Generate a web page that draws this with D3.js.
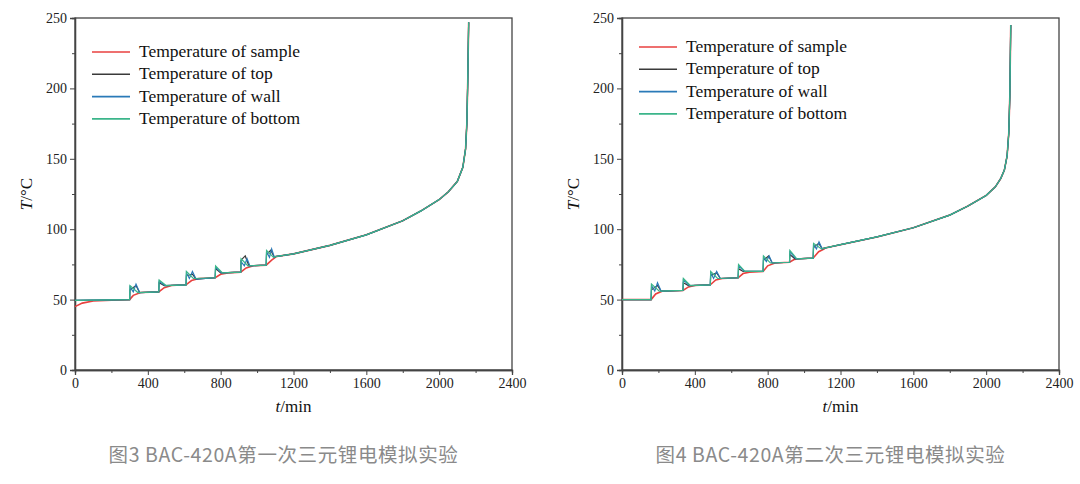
<!DOCTYPE html>
<html>
<head>
<meta charset="UTF-8">
<style>
  body { margin: 0; background: #fff; }
</style>
<script src="https://d3js.org/d3.v7.min.js"></script>
</head>
<body>
<svg id="chart" width="1080" height="484" style="font-family: 'Liberation Serif', serif"></svg>
<script>
// series names and colours
const seriesNames = ["Temperature of sample", "Temperature of top", "Temperature of wall", "Temperature of bottom"];
const seriesColors = ["#e8413f", "#3a3a3a", "#2a7ab8", "#3bb58a"];
const xTicks = [0, 400, 800, 1200, 1600, 2000, 2400];
const yTicks = [0, 50, 100, 150, 200, 250];

// figure 3, step section [t, T]
const f3Sample = [[0,45],[40,47.5],[100,49],[200,49.5],[300,50],[320,53],[360,55],[460,55.5],[490,58.5],[530,60],[610,60.5],[640,63.5],[680,65],[770,65.5],[800,68],[840,69],[910,69.5],[940,72.5],[980,74],[1050,74.5],[1080,78],[1100,80]];
const f3Top = [[0,49.5],[300,50],[302,57],[335,60],[355,55],[460,55.5],[462,62],[490,60],[610,60.5],[612,67],[645,68],[665,64.5],[770,65.5],[772,72],[800,69],[910,69.5],[912,78],[935,81],[955,74],[1050,74.5],[1052,82],[1075,85],[1095,80]];
const f3Wall = [[0,49.5],[300,50],[302,59],[320,55.5],[335,61],[355,55],[460,55.5],[462,63],[495,60],[610,60.5],[612,69],[628,65],[645,70],[665,64.5],[770,65.5],[772,73],[805,69],[910,69.5],[912,77],[930,74],[945,79],[960,74],[1050,74.5],[1052,84],[1068,80],[1080,86],[1095,80]];
const f3Bottom = [[0,49.5],[300,50],[302,60],[345,55],[460,55.5],[462,64],[500,60],[610,60.5],[612,70],[650,65],[770,65.5],[772,74],[810,69],[910,69.5],[912,79],[950,74],[1050,74.5],[1052,85],[1090,80]];
const f3Tail = [[1100,80.5],[1200,82.5],[1400,88.5],[1600,96],[1800,106],[1900,113],[2000,121],[2050,126.5],[2100,134],[2130,144],[2145,157],[2152,175],[2157,205],[2162,247]];

// figure 4, step section [t, T]
const f4Sample = [[0,50],[160,50],[185,54],[220,56],[335,56.5],[365,59],[400,60],[485,60.5],[515,64],[550,65],[638,65.5],[665,68.5],[700,69.5],[775,70],[800,74],[840,76],[920,76.5],[945,78.5],[980,79],[1050,79.5],[1080,84],[1110,86]];
const f4Top = [[0,50],[160,50],[162,57],[195,60],[215,56],[335,56.5],[337,62],[365,60],[485,60.5],[487,67],[520,69],[540,65],[638,65.5],[640,72],[665,70],[775,70],[777,78],[805,81],[825,76],[920,76.5],[922,82],[950,79],[1050,79.5],[1052,87],[1080,90],[1100,86]];
const f4Wall = [[0,50],[160,50],[162,60],[180,56],[195,62],[215,56],[335,56.5],[337,64],[370,60],[485,60.5],[487,69],[503,65],[520,70],[540,65],[638,65.5],[640,74],[672,70],[775,70],[777,80],[793,77],[808,81],[825,76],[920,76.5],[922,84],[955,79],[1050,79.5],[1052,89],[1068,86],[1082,91],[1100,86]];
const f4Bottom = [[0,50],[160,50],[162,61],[205,56],[335,56.5],[337,65],[375,60],[485,60.5],[487,70],[525,65],[638,65.5],[640,75],[675,70],[775,70],[777,81],[815,76],[920,76.5],[922,85],[960,79],[1050,79.5],[1052,90],[1095,86]];
const f4Tail = [[1110,86.5],[1200,89],[1400,94.5],[1600,101],[1800,110],[1900,116.5],[2000,124],[2050,130],[2080,136],[2100,142],[2115,152],[2124,168],[2130,195],[2135,245]];

const svg = d3.select("#chart");
const serif = "'Liberation Serif', serif";

function drawChart(left, series, legendTop, caption) {
  const x0 = left, x1 = left + 437, yTop = 18, yBot = 370;
  const x = d3.scaleLinear().domain([0, 2400]).range([x0, x1]);
  const y = d3.scaleLinear().domain([0, 250]).range([yBot, yTop]);
  const g = svg.append("g");

  // frame
  g.append("rect").attr("x", x0).attr("y", yTop).attr("width", x1 - x0).attr("height", yBot - yTop)
    .attr("fill", "none").attr("stroke", "#444").attr("stroke-width", 1.3);

  g.append("g").attr("transform", `translate(0,${yBot})`)
    .call(d3.axisBottom(x).tickValues(xTicks).tickFormat(d3.format("d")).tickSize(5).tickPadding(3));
  g.append("g").attr("transform", `translate(0,${yBot})`)
    .call(d3.axisBottom(x).tickValues(d3.range(200, 2400, 400)).tickSize(3).tickFormat(""));
  g.append("g").attr("transform", `translate(${x0},0)`)
    .call(d3.axisLeft(y).tickValues(yTicks).tickSize(5).tickPadding(3));
  g.append("g").attr("transform", `translate(${x0},0)`)
    .call(d3.axisLeft(y).tickValues(d3.range(25, 250, 50)).tickSize(3).tickFormat(""));
  g.selectAll("g").attr("font-family", null).style("font-family", serif);
  g.selectAll(".domain").attr("stroke", "#444").attr("stroke-width", 1.3);
  g.selectAll(".tick line").attr("stroke", "#444");
  g.selectAll(".tick text").attr("font-size", 14).attr("fill", "#222");

  const line = d3.line().x(d => x(d[0])).y(d => y(d[1]));
  series.forEach((s, i) => {
    g.append("path").datum(s).attr("d", line).attr("fill", "none")
      .attr("stroke", seriesColors[i]).attr("stroke-width", i === 0 ? 1.6 : 1.2);
  });

  // legend
  seriesNames.forEach((n, i) => {
    const ly = legendTop + i * 22.3;
    g.append("line").attr("x1", x0 + 17).attr("x2", x0 + 55).attr("y1", ly).attr("y2", ly)
      .attr("stroke", seriesColors[i]).attr("stroke-width", 1.6);
    g.append("text").attr("x", x0 + 64).attr("y", ly + 5).attr("font-size", 17.5).attr("fill", "#111").text(n);
  });

  // axis titles
  const yt = g.append("text").attr("transform", `translate(${x0 - 43},${(yTop + yBot) / 2}) rotate(-90)`)
    .attr("text-anchor", "middle").attr("font-size", 17).attr("fill", "#111");
  yt.append("tspan").attr("font-style", "italic").text("T");
  yt.append("tspan").text("/°C");
  const xt = g.append("text").attr("x", (x0 + x1) / 2).attr("y", 412)
    .attr("text-anchor", "middle").attr("font-size", 17).attr("fill", "#111");
  xt.append("tspan").attr("font-style", "italic").text("t");
  xt.append("tspan").text("/min");

  g.append("text").attr("x", (x0 + x1) / 2 - 10).attr("y", 462)
    .style("font-family", "'Noto Sans CJK SC', 'Noto Sans', sans-serif")
    .attr("fill", "#8a8a8a").attr("font-size", 19.5).attr("letter-spacing", 0.6)
    .attr("text-anchor", "middle").text(caption);
}

drawChart(75, [f3Sample.concat(f3Tail), f3Top.concat(f3Tail), f3Wall.concat(f3Tail), f3Bottom.concat(f3Tail)], 52,
  "图3 BAC-420A第一次三元锂电模拟实验");
drawChart(622, [f4Sample.concat(f4Tail), f4Top.concat(f4Tail), f4Wall.concat(f4Tail), f4Bottom.concat(f4Tail)], 47,
  "图4 BAC-420A第二次三元锂电模拟实验");
</script>
</body>
</html>
